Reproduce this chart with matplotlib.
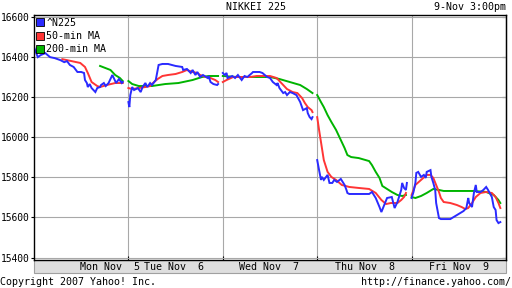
import numpy as np
import matplotlib as mp
mp.use('Agg')
import matplotlib.pyplot as plt
from matplotlib.lines import Line2D
from matplotlib.patches import Rectangle

# time in trading days (0 = Mon Nov 5 open), values in index points
n225_t = [0.00, 0.02, 0.04, 0.07, 0.12, 0.17, 0.22, 0.28, 0.32, 0.35, 0.38, 0.42, 0.46, 0.50, 0.53, 0.54, 0.56,
          0.57, 0.59, 0.61, 0.65, 0.66, 0.67, 0.70, 0.71, 0.74, 0.76, 0.79, 0.83, 0.84, 0.87, 0.90, 0.93, 0.94,
          1.00, 1.01, 1.02, 1.04, 1.06, 1.10, 1.13, 1.15, 1.18, 1.20, 1.23, 1.25, 1.29, 1.31, 1.32, 1.36, 1.42,
          1.50, 1.57, 1.58, 1.62, 1.66, 1.68, 1.71, 1.73, 1.76, 1.79, 1.84, 1.85, 1.87, 1.90, 1.94, 1.95,
          2.00, 2.02, 2.04, 2.05, 2.10, 2.13, 2.16, 2.20, 2.23, 2.26, 2.31, 2.32, 2.39, 2.42, 2.47, 2.50, 2.53,
          2.57, 2.58, 2.60, 2.64, 2.66, 2.68, 2.71, 2.74, 2.78, 2.82, 2.85, 2.89, 2.90, 2.92, 2.94, 2.95,
          3.00, 3.02, 3.04, 3.05, 3.07, 3.11, 3.13, 3.16, 3.18, 3.21, 3.25, 3.29, 3.31, 3.32, 3.34, 3.55, 3.58,
          3.62, 3.66, 3.68, 3.71, 3.74, 3.79, 3.82, 3.85, 3.89, 3.90, 3.92, 3.94, 3.95,
          4.00, 4.02, 4.04, 4.05, 4.07, 4.10, 4.13, 4.15, 4.16, 4.20, 4.21, 4.23, 4.25, 4.26, 4.29, 4.31, 4.41,
          4.48, 4.55, 4.58, 4.60, 4.61, 4.64, 4.66, 4.68, 4.69, 4.73, 4.76, 4.79, 4.81, 4.85, 4.87, 4.89, 4.90,
          4.92, 4.94]
n225_v = [16449, 16424, 16399, 16409, 16419, 16399, 16394, 16384, 16374, 16379, 16360, 16350, 16325, 16325, 16320,
          16285, 16270, 16250, 16265, 16245, 16225, 16235, 16245, 16250, 16260, 16270, 16255, 16270, 16310, 16300,
          16270, 16290, 16270, 16275,
          16175, 16150, 16210, 16250, 16235, 16245, 16225, 16250, 16270, 16250, 16270, 16260, 16285, 16335, 16360,
          16365, 16365, 16355, 16350, 16335, 16340, 16320, 16335, 16310, 16325, 16300, 16310, 16295, 16305, 16275,
          16265, 16260, 16265,
          16320, 16310, 16320, 16295, 16305, 16295, 16310, 16285, 16305, 16300, 16320, 16325, 16325, 16320, 16300,
          16295, 16275, 16260, 16270, 16245, 16220, 16225, 16210, 16225, 16220, 16210, 16175, 16135, 16145, 16120,
          16100, 16090, 16100,
          15886, 15836, 15787, 15802, 15787, 15812, 15772, 15772, 15787, 15777, 15792, 15762, 15737, 15722, 15717,
          15717, 15727, 15697, 15652, 15627, 15662, 15697, 15702, 15647, 15677, 15737, 15772, 15747, 15737, 15772,
          15697, 15727, 15772, 15822, 15827, 15802, 15812, 15797, 15827, 15836, 15802, 15772, 15737, 15672, 15597,
          15592, 15592, 15612, 15632, 15647, 15697, 15672, 15652, 15722, 15762, 15727, 15727, 15737, 15752, 15737,
          15702, 15652, 15637, 15587, 15572, 15577]

ma50_t = [0.30, 0.40, 0.49, 0.54, 0.57, 0.61, 0.67, 0.70, 0.77, 0.86, 0.94,
          1.00, 1.04, 1.11, 1.18, 1.23, 1.26, 1.31, 1.36, 1.42, 1.50, 1.57, 1.62, 1.68, 1.73, 1.76, 1.82, 1.87,
          1.92, 1.95,
          2.00, 2.04, 2.11, 2.18, 2.29, 2.36, 2.50, 2.57, 2.62, 2.68, 2.74, 2.79, 2.84, 2.87, 2.90, 2.94, 2.95,
          3.00, 3.02, 3.04, 3.07, 3.11, 3.15, 3.20, 3.26, 3.34, 3.44, 3.55, 3.62, 3.68, 3.73, 3.78, 3.85, 3.89,
          3.92, 3.94,
          4.00, 4.04, 4.10, 4.16, 4.20, 4.23, 4.26, 4.29, 4.31, 4.34, 4.41, 4.48, 4.53, 4.57, 4.60, 4.64, 4.68,
          4.73, 4.79, 4.85, 4.89, 4.92, 4.94]
ma50_v = [16389, 16379, 16370, 16350, 16320, 16275, 16255, 16250, 16260, 16270, 16270,
          16245, 16240, 16245, 16250, 16255, 16270, 16290, 16305, 16310, 16315, 16325, 16335, 16325, 16320, 16310,
          16300, 16295, 16285, 16275,
          16275, 16285, 16300, 16300, 16300, 16305, 16305, 16295, 16270, 16240, 16225, 16220, 16195, 16170, 16150,
          16135, 16125,
          16100, 16036, 15976, 15886, 15827, 15802, 15787, 15762, 15752, 15747, 15742, 15722, 15687, 15667, 15672,
          15672, 15687, 15702, 15722,
          15712, 15762, 15787, 15812, 15812, 15797, 15762, 15727, 15697, 15677, 15672, 15662, 15652, 15642, 15647,
          15672, 15702, 15722, 15727, 15722, 15702, 15672, 15647]

ma200_t = [0.70, 0.81, 0.86, 0.91, 0.94,
           1.00, 1.04, 1.11, 1.25, 1.39, 1.53, 1.68, 1.78, 1.85, 1.95,
           2.00, 2.15, 2.32, 2.50, 2.60, 2.71, 2.82, 2.89, 2.95,
           3.00, 3.04, 3.07, 3.11, 3.15, 3.20, 3.25, 3.29, 3.32, 3.36, 3.44, 3.55, 3.58, 3.62, 3.66, 3.69, 3.74,
           3.79, 3.85, 3.90, 3.94,
           4.00, 4.04, 4.10, 4.16, 4.23, 4.29, 4.34, 4.66, 4.79, 4.87, 4.92, 4.94]
ma200_v = [16355, 16335, 16310, 16295, 16280,
           16280, 16265, 16255, 16255, 16265, 16270, 16285, 16300, 16305, 16305,
           16305, 16300, 16300, 16300, 16290, 16275, 16260, 16240, 16220,
           16210, 16175, 16150, 16110, 16076, 16036, 15986, 15946, 15911, 15901, 15896, 15881, 15861, 15827, 15797,
           15757, 15742, 15727, 15712, 15707, 15712,
           15702, 15697, 15707, 15722, 15742, 15737, 15732, 15732, 15727, 15712, 15687, 15672]

day_labels = ['Mon Nov  5', 'Tue Nov  6', 'Wed Nov  7', 'Thu Nov  8', 'Fri Nov  9']
day_label_x = [0.49, 1.165, 2.17, 3.19, 4.18]
y_ticks = [15400, 15600, 15800, 16000, 16200, 16400, 16600]

mono = 'DejaVu Sans Mono'
fs = 7.2
blue, red, green = '#2a2aff', '#ff3535', '#00b400'

fig = plt.figure(figsize=(5.12, 2.88), dpi=100)
ax = fig.add_axes([34/512, 1-260/288, 472/512, 245/288])

def plot_days(t, v, color):
    t = np.array(t)
    v = np.array(v)
    for d in range(5):
        m = np.floor(t) == d
        ax.plot(t[m], v[m], color=color, lw=1.4, solid_joinstyle='miter')

plot_days(ma200_t, ma200_v, green)
plot_days(ma50_t, ma50_v, red)
plot_days(n225_t, n225_v, blue)

ax.set_xlim(0, 5)
ax.set_ylim(15388, 16609)
ax.set_xticks([1, 2, 3, 4])
ax.set_xticklabels([])
ax.set_yticks(y_ticks)
ax.set_yticklabels([str(y) for y in y_ticks], fontfamily=mono, fontsize=6.9)
ax.grid(True, color='#a8a8a8', lw=0.8)
ax.tick_params(axis='y', direction='out', length=2.5, width=0.8, pad=0.5)
ax.tick_params(axis='x', direction='in', length=3, width=0.8)
for s in ax.spines.values():
    s.set_color('black')
    s.set_linewidth(1.0)

sec = ax.secondary_yaxis('right')
sec.set_yticks(y_ticks)
sec.set_yticklabels([])
sec.tick_params(direction='in', length=3, width=0.8)

handles = [Line2D([], [], marker='s', ls='none', markerfacecolor=c, markeredgecolor='black',
                  markeredgewidth=0.6, markersize=5.5) for c in (blue, red, green)]
ax.legend(handles, ['^N225', '50-min MA', '200-min MA'], loc='upper left', frameon=False,
          prop={'family': mono, 'size': fs}, handlelength=0.7, handletextpad=0.3,
          borderaxespad=0.15, borderpad=0.1, labelspacing=0.35)

# date band under the plot
band = Rectangle((34/512, 1-273/288), 472/512, 13/288, transform=fig.transFigure,
                 facecolor='#dedede', edgecolor='#a0a0a0', lw=0.8, zorder=-1)
fig.add_artist(band)
for x, lab in zip(day_label_x, day_labels):
    ax.text(x, -0.028, lab, transform=ax.get_xaxis_transform(), ha='left', va='center',
            fontfamily=mono, fontsize=fs, zorder=5)

fig.text(256/512, 1-7/288, 'NIKKEI 225', ha='center', va='center', fontfamily=mono, fontsize=fs)
fig.text(506/512, 1-7/288, '9-Nov 3:00pm', ha='right', va='center', fontfamily=mono, fontsize=fs)
fig.text(0, 1-282/288, 'Copyright 2007 Yahoo! Inc.', ha='left', va='center', fontfamily=mono, fontsize=fs)
fig.text(511/512, 1-282/288, 'http://finance.yahoo.com/', ha='right', va='center', fontfamily=mono, fontsize=fs)

fig.savefig('out.png', dpi=100)
